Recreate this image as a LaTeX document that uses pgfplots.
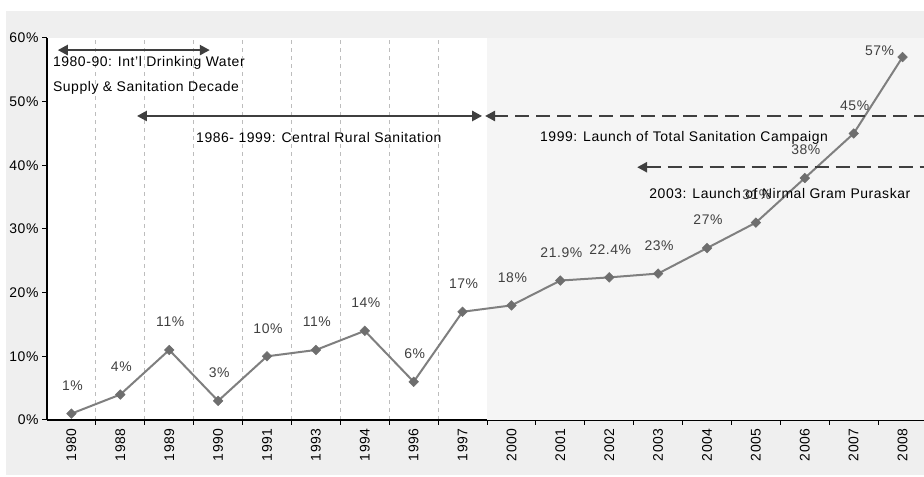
\documentclass[border=0pt]{standalone}
\usepackage{fontspec}
\setmainfont{Liberation Sans}[LetterSpace=4]
\usepackage{pgfplots}
\usepackage{pgfplotstable}
\pgfplotsset{compat=1.18}
\usetikzlibrary{arrows.meta}
\definecolor{bgout}{HTML}{EFEFEF}
\definecolor{shade}{HTML}{F5F5F5}
\definecolor{linegray}{HTML}{7F7F7F}
\definecolor{markgray}{HTML}{6E6E6E}
\definecolor{arrowc}{HTML}{3F3F3F}
\definecolor{gridc}{HTML}{BDBDBD}
\definecolor{labc}{HTML}{404040}
\newcommand{\fnt}{\fontsize{14}{16}\selectfont}
\pgfplotstableread{
x y
0 1
1 4
2 11
3 3
4 10
5 11
6 14
7 6
8 17
9 18
10 21.9
11 22.4
12 23
13 27
14 31
15 38
16 45
17 57
}\sancov
\begin{document}
\begin{tikzpicture}[x=1bp,y=1bp]
\path[use as bounding box] (0,0) rectangle (924,477);
\fill[bgout] (6,2) rectangle (924,466);
\begin{axis}[
  at={(47bp,57bp)}, anchor=south west,
  scale only axis, width=880bp, height=382bp,
  xmin=-0.5, xmax=17.5, ymin=0, ymax=60,
  clip=false,
  axis x line*=bottom, axis y line*=left,
  axis line style={black, line width=1.3bp},
  /pgf/number format/assume math mode=true,
  tick align=outside,
  major tick length=5bp, minor tick length=5bp,
  xtick={0,...,17},
  xticklabels={1980,1988,1989,1990,1991,1993,1994,1996,1997,2000,2001,2002,2003,2004,2005,2006,2007,2008},
  major x tick style={draw=none},
  minor xtick={0.5,1.5,...,16.5},
  minor x tick style={black, line width=1bp},
  xminorgrids,
  minor x grid style={gridc, line width=0.9bp, dash pattern=on 4bp off 4bp},
  ytick={0,10,...,60},
  yticklabel={\pgfmathprintnumber{\tick}\%},
  major y tick style={black, line width=1bp},
  x tick label style={rotate=90, anchor=east, font=\fnt, text=black},
  y tick label style={font=\fnt, text=black},
  axis background/.style={fill=white},
]
\addplot[draw=none, fill=shade, forget plot] coordinates {(8.5,0) (17.5,0) (17.5,60) (8.5,60)} -- cycle;
\addplot[color=linegray, line width=2bp, mark=square*, mark size=3.4bp,
  mark options={rotate=45, fill=markgray, draw=markgray, line width=0.5bp}] table[x=x,y=y] {\sancov};
\addplot[draw=none, mark=none, restrict x to domain=0:16, point meta=y,
  nodes near coords={\pgfmathprintnumber{\pgfplotspointmeta}\%},
  every node near coord/.append style={anchor=center, yshift=28bp, xshift=1bp, font=\fnt, text=labc}] table[x=x,y=y] {\sancov};
\addplot[draw=none, mark=none, point meta=y,
  nodes near coords={\pgfmathprintnumber{\pgfplotspointmeta}\%},
  every node near coord/.append style={anchor=center, xshift=-23bp, yshift=6bp, font=\fnt, text=labc}] coordinates {(17,57)};
% annotations
\draw[arrowc, line width=2.4bp, {Triangle[length=10bp,width=10bp]}-{Triangle[length=10bp,width=10bp]}] (axis cs:-0.28,58.1) -- (axis cs:2.83,58.1);
\node[anchor=west, inner sep=0pt, font=\fnt] at (axis cs:-0.38,56.07) {1980-90: Int'l Drinking Water};
\node[anchor=west, inner sep=0pt, font=\fnt] at (axis cs:-0.38,52.1) {Supply \& Sanitation Decade};
\draw[arrowc, line width=2.4bp, {Triangle[length=10bp,width=10bp]}-{Triangle[length=10bp,width=10bp]}] (axis cs:1.34,47.75) -- (axis cs:8.40,47.75);
\node[inner sep=0pt, font=\fnt] at (axis cs:5.06,44.3) {1986- 1999: Central Rural Sanitation};
\draw[arrowc, line width=2.4bp, dash pattern=on 14bp off 7bp, {Triangle[length=10bp,width=10bp]}-] (axis cs:8.46,47.75) -- (axis cs:18.2,47.75);
\node[inner sep=0pt, font=\fnt] at (axis cs:12.53,44.3) {1999: Launch of Total Sanitation Campaign};
\draw[arrowc, line width=2.4bp, dash pattern=on 14bp off 7bp, {Triangle[length=10bp,width=10bp]}-] (axis cs:11.57,39.7) -- (axis cs:18.2,39.7);
\node[inner sep=0pt, font=\fnt] at (axis cs:14.49,35.65) {2003: Launch of Nirmal Gram Puraskar};
\end{axis}
\end{tikzpicture}
\end{document}
